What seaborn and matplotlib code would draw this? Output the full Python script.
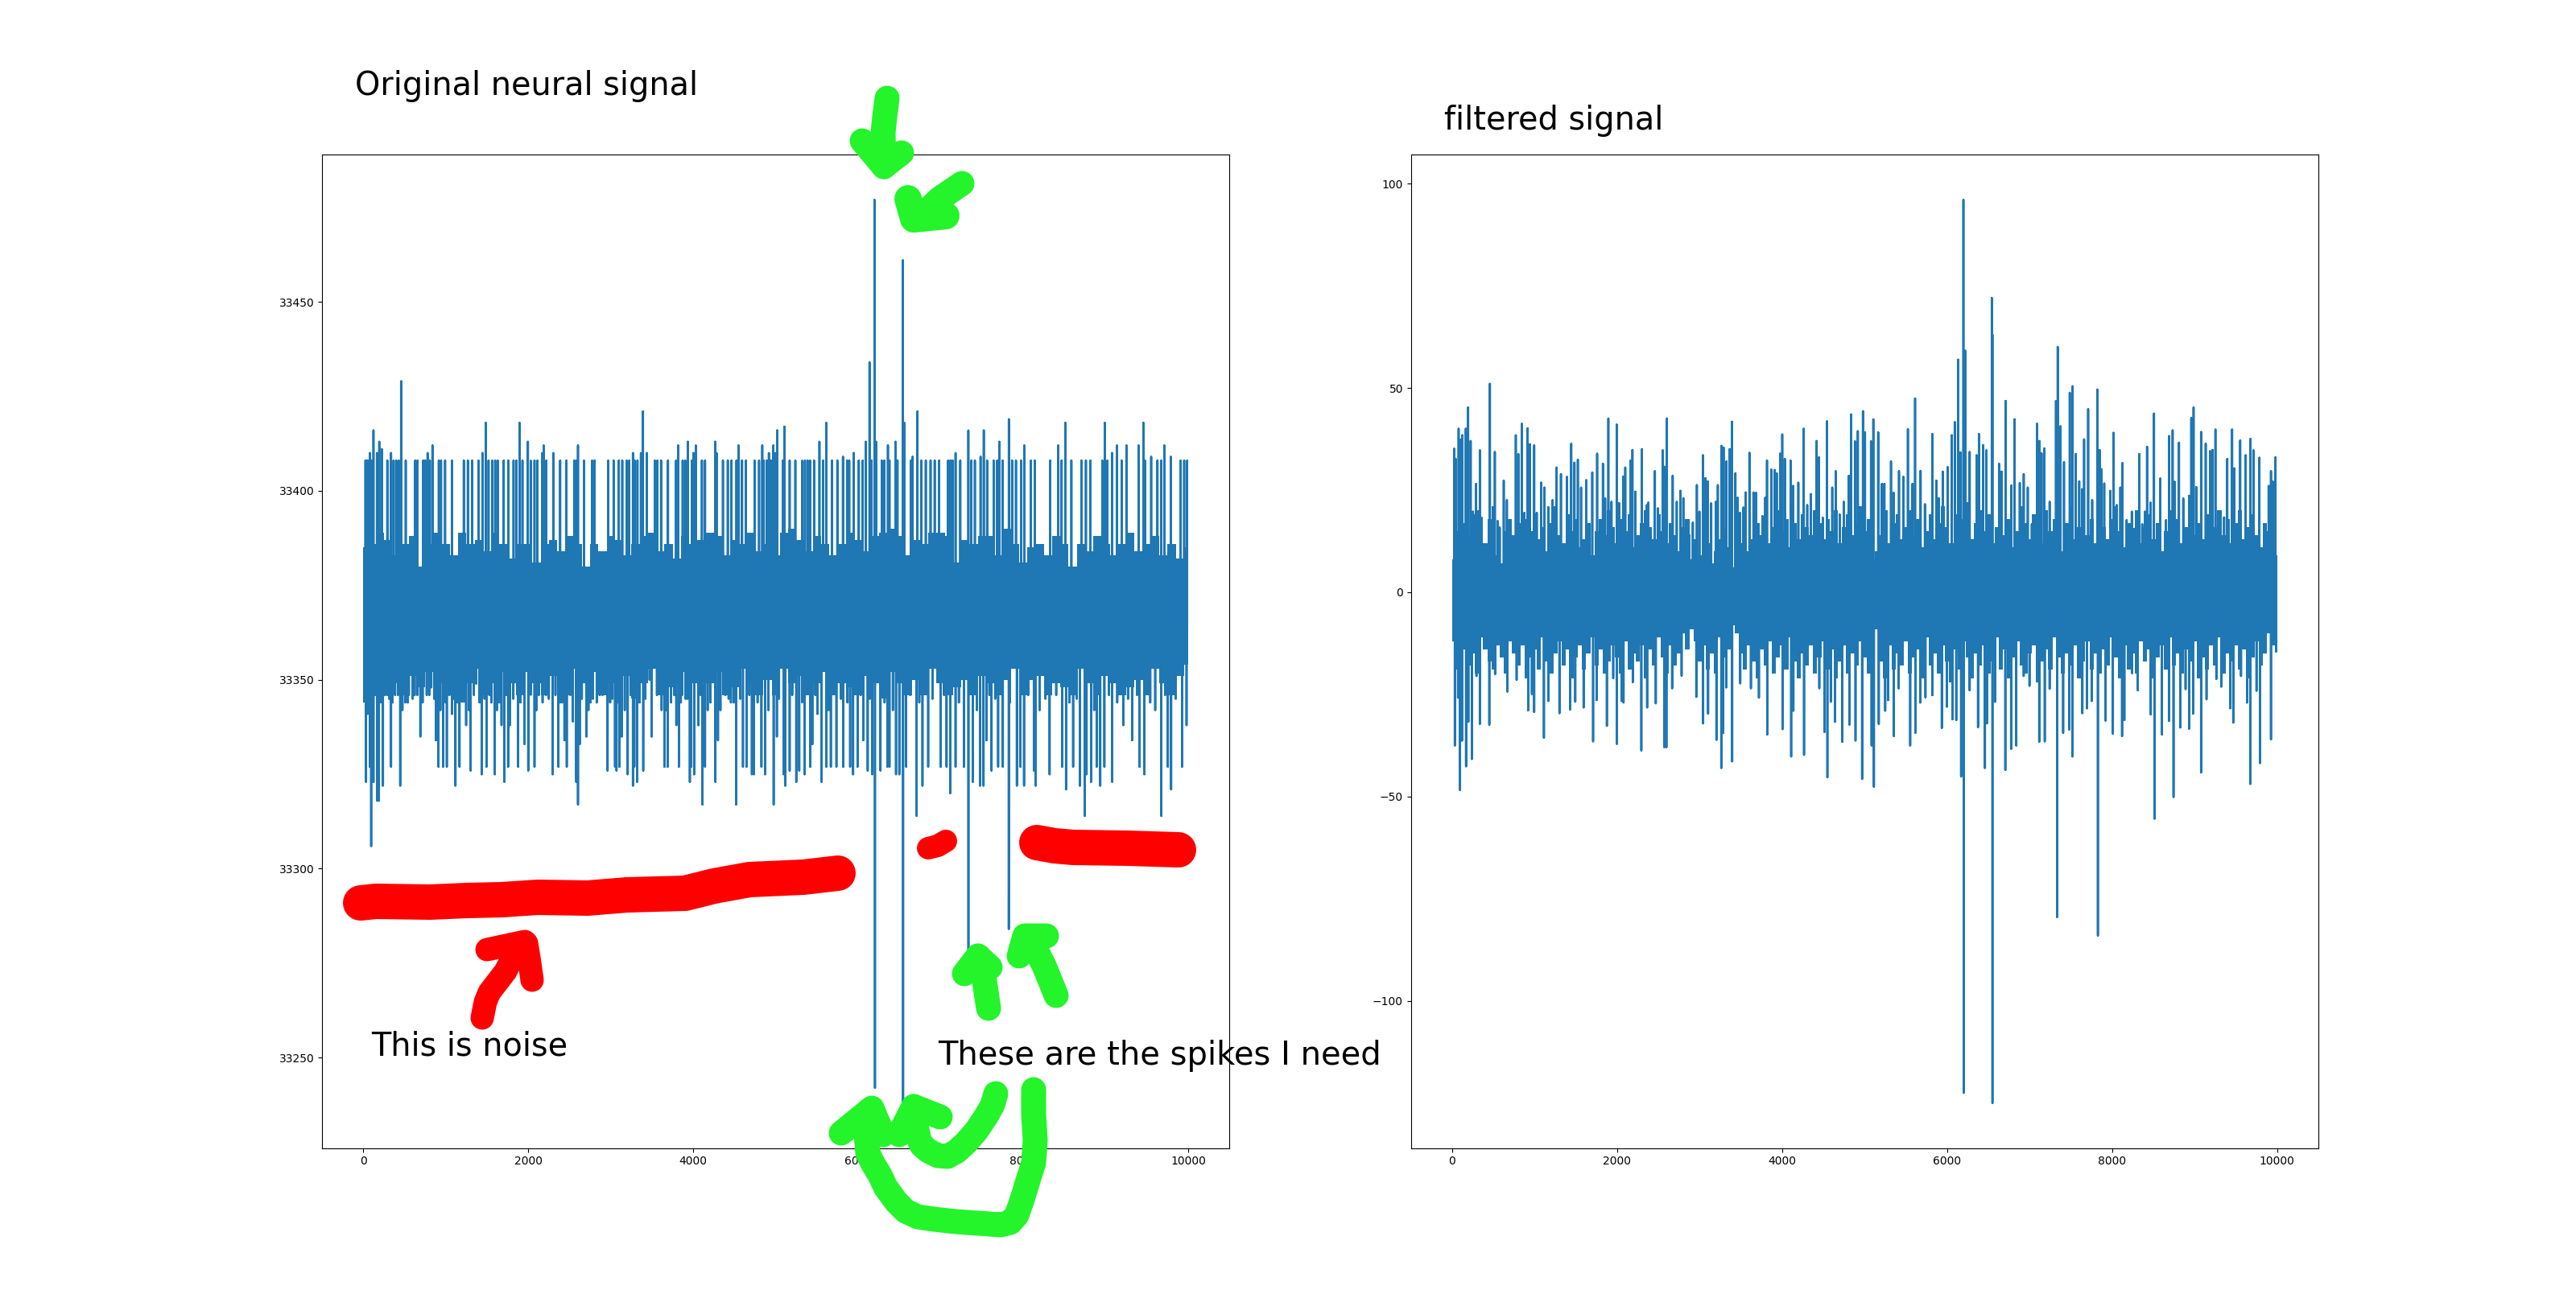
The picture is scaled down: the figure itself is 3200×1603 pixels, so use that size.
import numpy as np
import pandas as pd
import matplotlib
matplotlib.use("Agg")
import matplotlib.pyplot as plt
import seaborn as sns

# Values: tips of the visible spikes, and the
# edges of the solid band along the x axis.
left_up_x = [27, 44, 65, 79, 96, 124, 166, 194, 225, 292, 337, 368, 400, 431, 459, 515, 630, 658, 727, 752,
             780, 807, 839, 916, 943, 992, 1076, 1219, 1268, 1320, 1397, 1445, 1484, 1519, 1564, 1599, 1630,
             1703, 1759, 1822, 1857, 1895, 1930, 1996, 2031, 2076, 2111, 2171, 2188, 2219, 2303, 2387, 2463,
             2557, 2582, 2603, 2676, 2774, 2805, 2969, 3035, 3098, 3140, 3192, 3223, 3269, 3290, 3324, 3366,
             3391, 3436, 3534, 3565, 3610, 3694, 3792, 3816, 3872, 3903, 3934, 3983, 4004, 4032, 4105, 4143,
             4266, 4283, 4360, 4419, 4464, 4524, 4548, 4592, 4639, 4744, 4798, 4837, 4855, 4892, 4917, 4942,
             4971, 5000, 5018, 5086, 5105, 5169, 5238, 5321, 5354, 5386, 5415, 5465, 5530, 5574, 5613, 5682,
             5747, 5815, 5866, 5891, 5945, 6007, 6054, 6090, 6137, 6162, 6198, 6216, 6285, 6317, 6360, 6379,
             6451, 6476, 6541, 6559, 6638, 6660, 6718, 6765, 6819, 6877, 6927, 6981, 7090, 7118, 7144, 7180,
             7237, 7335, 7371, 7414, 7483, 7522, 7562, 7642, 7685, 7710, 7750, 7826, 7865, 7912, 7974, 8013,
             8093, 8140, 8327, 8425, 8465, 8511, 8584, 8706, 8760, 8815, 8959, 8988, 9020, 9078, 9136, 9193,
             9251, 9399, 9457, 9475, 9551, 9627, 9674, 9710, 9789, 9908, 9951, 9987]
left_up_y = [33408, 33408, 33408, 33410, 33408, 33416, 33410, 33413, 33411, 33408, 33410, 33408, 33408, 33408,
             33429, 33408, 33408, 33408, 33408, 33408, 33410, 33408, 33412, 33408, 33408, 33408, 33408, 33408,
             33408, 33408, 33408, 33410, 33418, 33408, 33408, 33408, 33408, 33408, 33408, 33408, 33408, 33418,
             33408, 33413, 33408, 33408, 33408, 33410, 33412, 33408, 33410, 33408, 33408, 33408, 33408, 33412,
             33408, 33408, 33408, 33408, 33408, 33408, 33408, 33408, 33408, 33410, 33408, 33408, 33410, 33421,
             33410, 33408, 33408, 33408, 33408, 33408, 33412, 33408, 33408, 33413, 33408, 33410, 33412, 33408,
             33408, 33413, 33410, 33408, 33408, 33408, 33408, 33412, 33408, 33408, 33408, 33408, 33412, 33408,
             33408, 33410, 33408, 33412, 33410, 33416, 33408, 33417, 33408, 33408, 33408, 33408, 33408, 33408,
             33408, 33413, 33408, 33418, 33408, 33408, 33409, 33408, 33408, 33410, 33408, 33408, 33413, 33434,
             33408, 33477, 33413, 33408, 33408, 33412, 33408, 33413, 33408, 33461, 33418, 33408, 33409, 33421,
             33408, 33408, 33408, 33408, 33408, 33408, 33408, 33408, 33410, 33408, 33416, 33408, 33408, 33409,
             33416, 33408, 33408, 33408, 33413, 33408, 33419, 33408, 33408, 33408, 33412, 33408, 33408, 33408,
             33412, 33408, 33418, 33408, 33408, 33408, 33408, 33408, 33418, 33408, 33410, 33412, 33408, 33412,
             33412, 33418, 33408, 33409, 33408, 33408, 33412, 33409, 33408, 33408, 33408]
left_down_x = [34, 54, 79, 96, 124, 170, 190, 239, 288, 337, 386, 448, 508, 553, 623, 692, 769, 825, 881, 912,
               968, 1013, 1076, 1118, 1167, 1247, 1302, 1369, 1435, 1494, 1553, 1595, 1676, 1710, 1756, 1780,
               1878, 1954, 2000, 2076, 2129, 2174, 2216, 2296, 2366, 2383, 2439, 2467, 2540, 2582, 2603, 2624,
               2704, 2756, 2784, 2868, 2962, 2993, 3052, 3070, 3105, 3133, 3206, 3269, 3286, 3321, 3394, 3471,
               3495, 3617, 3652, 3690, 3732, 3795, 3826, 3865, 3907, 3959, 3976, 4011, 4063, 4112, 4143, 4175,
               4269, 4300, 4429, 4457, 4520, 4603, 4646, 4711, 4736, 4827, 4870, 4975, 5014, 5097, 5115, 5169,
               5249, 5285, 5350, 5419, 5444, 5505, 5556, 5613, 5668, 5736, 5819, 5902, 5938, 5992, 6061, 6115,
               6169, 6203, 6270, 6353, 6379, 6458, 6498, 6544, 6581, 6707, 6779, 6848, 6999, 7071, 7115, 7180,
               7281, 7336, 7389, 7476, 7519, 7555, 7616, 7696, 7753, 7825, 7923, 7966, 8010, 8129, 8151, 8320,
               8472, 8519, 8605, 8688, 8746, 8768, 8822, 8890, 8934, 8984, 9078, 9212, 9320, 9410, 9468, 9674,
               9753, 9793, 9926, 9980]
left_down_y = [33323, 33341, 33327, 33306, 33323, 33318, 33318, 33322, 33346, 33327, 33346, 33322, 33344, 33346,
               33346, 33335, 33346, 33348, 33334, 33327, 33327, 33327, 33341, 33322, 33327, 33338, 33326, 33349,
               33325, 33327, 33344, 33325, 33338, 33323, 33327, 33338, 33327, 33333, 33326, 33327, 33346, 33344,
               33346, 33325, 33327, 33344, 33334, 33327, 33339, 33323, 33317, 33333, 33335, 33344, 33345, 33346,
               33326, 33344, 33327, 33326, 33327, 33335, 33325, 33322, 33327, 33323, 33326, 33350, 33335, 33342,
               33327, 33327, 33344, 33338, 33327, 33346, 33345, 33323, 33327, 33325, 33338, 33317, 33327, 33342,
               33323, 33334, 33345, 33344, 33317, 33327, 33327, 33325, 33325, 33327, 33325, 33317, 33335, 33325,
               33322, 33326, 33323, 33326, 33325, 33327, 33333, 33341, 33323, 33327, 33327, 33327, 33327, 33327,
               33325, 33327, 33334, 33326, 33325, 33242, 33326, 33327, 33327, 33325, 33325, 33238, 33327, 33314,
               33322, 33327, 33327, 33327, 33320, 33327, 33327, 33277, 33323, 33322, 33322, 33334, 33326, 33327,
               33327, 33284, 33322, 33327, 33322, 33326, 33322, 33325, 33327, 33321, 33327, 33322, 33314, 33325,
               33323, 33327, 33322, 33327, 33323, 33338, 33334, 33327, 33325, 33314, 33327, 33321, 33327, 33338]
# the shorter tips just under the band
left_short_x = [60, 110, 145, 215, 260, 315, 355, 420, 475, 540, 600, 655, 720, 800, 860, 935, 1000, 1045, 1100,
                1145, 1200, 1280, 1340, 1410, 1470, 1530, 1620, 1650, 1735, 1820, 1905, 2030, 2100, 2250, 2330,
                2410, 2510, 2650, 2730, 2830, 2900, 3020, 3090, 3170, 3240, 3350, 3420, 3560, 3670, 3770, 3850,
                3930, 4090, 4210, 4330, 4390, 4490, 4570, 4680, 4780, 4910, 5040, 5200, 5320, 5480, 5640, 5790,
                5870, 6030, 6140, 6320, 6420, 6630, 6740, 6900, 7040, 7220, 7440, 7590, 7660, 7840, 8060, 8200,
                8270, 8400, 8560, 8650, 8860, 9040, 9140, 9270, 9380, 9540, 9600, 9720, 9850]
left_short_y = [33344, 33342, 33346, 33344, 33346, 33345, 33344, 33346, 33342, 33344, 33345, 33346, 33344, 33346,
                33345, 33342, 33344, 33346, 33345, 33344, 33346, 33342, 33346, 33344, 33345, 33346, 33342, 33344,
                33346, 33345, 33344, 33346, 33342, 33345, 33346, 33344, 33346, 33345, 33342, 33344, 33346, 33345,
                33344, 33342, 33346, 33344, 33345, 33346, 33342, 33346, 33344, 33345, 33346, 33344, 33342, 33346,
                33344, 33345, 33346, 33344, 33342, 33345, 33346, 33344, 33346, 33342, 33345, 33344, 33346, 33345,
                33344, 33342, 33346, 33344, 33345, 33346, 33344, 33342, 33346, 33345, 33344, 33346, 33342, 33345,
                33346, 33344, 33345, 33342, 33346, 33344, 33345, 33346, 33344, 33342, 33346, 33345]

right_up_x = [25, 43, 78, 98, 123, 165, 193, 224, 252, 290, 335, 356, 457, 517, 551, 576, 625, 663, 698, 771,
              802, 844, 875, 914, 942, 994, 1025, 1077, 1116, 1165, 1217, 1266, 1318, 1391, 1443, 1482, 1523,
              1562, 1624, 1698, 1757, 1827, 1854, 1893, 1931, 1994, 2022, 2074, 2098, 2161, 2185, 2220, 2300,
              2360, 2377, 2457, 2495, 2551, 2572, 2603, 2673, 2722, 2767, 2802, 2844, 2875, 2917, 2966, 2997,
              3039, 3070, 3098, 3140, 3196, 3220, 3265, 3290, 3325, 3363, 3391, 3433, 3460, 3488, 3530, 3558,
              3603, 3652, 3683, 3760, 3795, 3816, 3868, 3910, 3934, 3976, 4001, 4032, 4102, 4133, 4196, 4262,
              4304, 4349, 4418, 4446, 4492, 4544, 4607, 4649, 4697, 4746, 4809, 4837, 4882, 4917, 4979, 5004,
              5077, 5105, 5164, 5209, 5239, 5319, 5350, 5416, 5469, 5524, 5580, 5611, 5678, 5730, 5820, 5869,
              5897, 5946, 6005, 6057, 6092, 6134, 6162, 6197, 6218, 6273, 6357, 6385, 6434, 6475, 6541, 6549,
              6629, 6660, 6709, 6779, 6817, 6880, 6928, 6977, 7026, 7089, 7120, 7144, 7179, 7242, 7319, 7340,
              7374, 7416, 7486, 7521, 7559, 7601, 7636, 7660, 7709, 7758, 7820, 7848, 7869, 7904, 7977, 8015,
              8054, 8099, 8124, 8176, 8238, 8270, 8329, 8364, 8399, 8423, 8465, 8507, 8583, 8653, 8691, 8733,
              8757, 8810, 8862, 8932, 8959, 8987, 9019, 9078, 9134, 9186, 9217, 9252, 9298, 9357, 9395, 9454,
              9479, 9552, 9618, 9677, 9712, 9785, 9845, 9897, 9925, 9946, 9980]
right_up_y = [35.1, 32.6, 40, 37.3, 38.4, 40, 45.2, 37, 19.7, 26.5, 34.7, 18.2, 51, 34.3, 17.4, 15.8, 27.3, 22.5,
              17.4, 38.4, 33.8, 41.2, 19.4, 40.1, 36.2, 35.9, 19.4, 26.8, 25.6, 20.8, 22.5, 30.5, 28.9, 28.2, 36.3,
              31.7, 32.4, 25.6, 27.4, 29.3, 33.9, 31.4, 22.9, 42.5, 22.1, 41, 21.8, 28.3, 30.5, 32.2, 34.8, 24.6, 35,
              21.3, 21.9, 29.6, 20.5, 34.7, 30.7, 42.5, 28.5, 22.1, 24.8, 23, 12.7, 13.9, 17, 26.2, 19.7, 33.5, 27.9,
              27.1, 21.7, 22.1, 26.2, 35.8, 35.4, 32, 35, 41.7, 29.1, 23.1, 19.4, 20.7, 24.4, 34.1, 24.4, 24.3, 18.6,
              23.1, 32.2, 30, 29.9, 29.1, 33.9, 38.6, 32.6, 32.2, 26, 26.8, 40, 21.3, 24, 37, 33, 18.2, 41.8, 25.6,
              29.6, 19, 22.1, 28.5, 43.5, 36.9, 39.4, 44.3, 39.1, 36.9, 42.3, 39.1, 26.5, 26.5, 32, 24.3, 29.6, 28.2,
              39.9, 26.5, 47.4, 29.7, 21.5, 38.7, 27.3, 23, 29.5, 30.6, 38.4, 41.6, 56.9, 34.2, 96, 59.1, 34.3, 33.5,
              38.7, 36, 34.7, 72, 63, 31.4, 29.5, 46.8, 26.1, 42.3, 26.7, 28.9, 25.6, 16.6, 41.2, 37, 34, 35.2, 22.1,
              46.8, 60, 40.6, 31.8, 48.8, 50.4, 33.8, 27.1, 25.2, 37.4, 44.8, 22.5, 49.6, 34.8, 30.1, 26.6, 24.8, 39,
              21.3, 25.6, 31.6, 17.6, 19.7, 15.5, 33.8, 16.6, 19.7, 35.6, 21.9, 43.7, 27.8, 17.6, 38.2, 39.6, 27,
              36.6, 22.9, 23.6, 42.6, 45.2, 25.7, 39.2, 36.3, 34.5, 34.8, 39.8, 17, 18.3, 32.6, 39.8, 30.3, 37.1,
              33.5, 37.5, 34.7, 32.9, 14.8, 26, 29.6, 27.1, 33]
right_down_x = [32, 71, 95, 119, 168, 196, 238, 294, 335, 450, 520, 670, 781, 921, 966, 994, 1112, 1165, 1300,
                1429, 1492, 1593, 1708, 1750, 1875, 1952, 1997, 2053, 2077, 2189, 2293, 2363, 2468, 2572, 2597,
                2666, 2781, 2959, 3042, 3102, 3203, 3262, 3286, 3321, 3394, 3492, 3621, 3718, 3819, 4004, 4109,
                4136, 4265, 4450, 4513, 4548, 4589, 4642, 4729, 4816, 4889, 4969, 5084, 5112, 5171, 5249, 5284,
                5354, 5413, 5552, 5615, 5674, 5737, 5820, 5935, 5995, 6064, 6110, 6169, 6200, 6273, 6374, 6458,
                6482, 6549, 6580, 6705, 6775, 6838, 6928, 6998, 7116, 7183, 7242, 7333, 7406, 7479, 7517, 7639,
                7695, 7754, 7827, 7921, 8009, 8120, 8148, 8242, 8311, 8468, 8514, 8604, 8688, 8744, 8827, 8890,
                8932, 8981, 9078, 9144, 9263, 9322, 9430, 9468, 9562, 9635, 9674, 9750, 9792, 9925, 9987]
right_down_y = [-37.5, -25.8, -48.4, -36.3, -42.6, -31.7, -40.8, -20.5, -32.2, -32.4, -20, -24.3, -21.4, -28.9,
                -24.9, -29.3, -35.6, -26.6, -29.6, -28.7, -26.8, -28.2, -36.5, -26.4, -32.7, -21, -37.1, -26.6,
                -27, -22, -38.7, -28.2, -27.2, -37.9, -37.9, -23.5, -20.4, -25.6, -32.1, -29.7, -36.1, -43, -34.4,
                -23.3, -41.4, -22.3, -23.5, -25.8, -34.8, -33.5, -40.2, -29, -39.8, -23.5, -34.2, -45.3, -26.8,
                -31.7, -36.6, -32.4, -36.3, -45.7, -37.5, -47.6, -32.2, -29, -26.4, -35.2, -23.5, -37.5, -34.4,
                -27, -25.7, -25.2, -33.2, -28, -31.1, -31.3, -45.1, -122.5, -24, -33, -43, -32.1, -125, -26.8,
                -43.5, -38.3, -37.5, -20.5, -22.9, -36.6, -36.5, -23.6, -79.5, -34.4, -33.6, -40.2, -29.6, -28.4,
                -26.6, -84, -31.4, -34.6, -35.2, -31.3, -19.8, -24, -29.9, -55.4, -34.8, -31.5, -50.1, -33.1,
                -23.7, -33.4, -29.7, -44.1, -26.2, -21.2, -23.1, -28.4, -31.9, -20.5, -27, -46.9, -24.1, -41.8,
                -36, -14.5]

left_band_top = [33385, 33386, 33389, 33387, 33383, 33386, 33388, 33380, 33386, 33389,
                 33386, 33383, 33389, 33386, 33387, 33384, 33389, 33386, 33382, 33386,
                 33386, 33381, 33386, 33387, 33384, 33388, 33386, 33380, 33386, 33384,
                 33388, 33387, 33383, 33386, 33388, 33389, 33384, 33386, 33382, 33388,
                 33386, 33387, 33389, 33388, 33383, 33387, 33386, 33389, 33384, 33386,
                 33383, 33389, 33390, 33387, 33384, 33388, 33386, 33383, 33386, 33389,
                 33387, 33384, 33388, 33389, 33390, 33388, 33383, 33387, 33386, 33389,
                 33389, 33388, 33381, 33387, 33386, 33388, 33388, 33383, 33390, 33386,
                 33381, 33385, 33386, 33383, 33388, 33386, 33380, 33386, 33384, 33388,
                 33386, 33383, 33386, 33389, 33384, 33386, 33388, 33383, 33386, 33382, 33385]
left_band_bottom = [33344, 33346, 33349, 33352, 33349, 33346, 33351, 33348, 33352, 33349,
                    33346, 33352, 33344, 33349, 33353, 33346, 33349, 33352, 33349, 33346,
                    33352, 33349, 33346, 33351, 33349, 33346, 33353, 33349, 33352, 33346,
                    33349, 33346, 33351, 33345, 33349, 33353, 33346, 33348, 33349, 33352,
                    33349, 33346, 33349, 33352, 33346, 33348, 33353, 33349, 33346, 33350,
                    33346, 33353, 33349, 33351, 33346, 33349, 33352, 33346, 33349, 33348,
                    33346, 33351, 33349, 33345, 33352, 33349, 33346, 33350, 33346, 33353,
                    33349, 33346, 33348, 33350, 33346, 33351, 33349, 33346, 33350, 33353,
                    33346, 33350, 33351, 33346, 33349, 33348, 33346, 33353, 33349, 33346,
                    33351, 33349, 33346, 33348, 33350, 33346, 33353, 33349, 33346, 33351, 33354]
right_band_top = [8, 15, 22, 17, 14, 19, 20, 16, 12, 18,
                  21, 9, 7, 15, 18, 14, 17, 11, 18, 15,
                  19, 13, 16, 10, 17, 21, 14, 12, 19, 15,
                  18, 11, 13, 17, 9, 15, 18, 14, 20, 16,
                  12, 18, 15, 19, 11, 14, 17, 20, 16, 13,
                  19, 15, 12, 17, 14, 10, 16, 18, 8, 13,
                  9, 14, 12, 7, 10, 13, 16, 11, 6, 9,
                  12, 15, 10, 13, 17, 14, 19, 12, 16, 20,
                  15, 18, 11, 17, 13, 19, 16, 14, 20, 17,
                  13, 18, 15, 20, 12, 16, 19, 14, 17, 21,
                  15, 18, 8, 10, 14, 20, 12, 17, 19, 13,
                  16, 20, 14, 18, 11, 15, 19, 13, 17, 21,
                  16, 12, 19, 14, 18, 22, 13, 17, 20, 15,
                  19, 12, 16, 20, 14, 18, 11, 15, 21, 17,
                  13, 19, 16, 12, 20, 15, 18, 14, 10, 17,
                  21, 13, 16, 19, 14, 18, 12, 20, 16, 13,
                  18, 21, 15, 11, 17, 14, 20, 12, 16, 19,
                  13, 17, 10, 15, 20, 14, 18, 12, 16, 21,
                  14, 17, 13, 19, 11, 16, 20, 14, 18, 12,
                  17, 20, 13, 16, 19, 14, 11, 17, 15, 12, 9]
right_band_bottom = [-12, -19, -16, -14, -18, -15, -20, -11, -14, -17,
                     -19, -13, -16, -20, -12, -15, -18, -13, -21, -16,
                     -14, -19, -11, -17, -20, -15, -12, -18, -14, -21,
                     -16, -13, -19, -15, -11, -18, -14, -20, -17, -13,
                     -16, -20, -12, -19, -15, -17, -13, -21, -14, -18,
                     -11, -16, -20, -13, -18, -15, -10, -14, -9, -12,
                     -17, -13, -19, -15, -20, -11, -16, -14, -8, -10,
                     -15, -19, -13, -17, -21, -14, -18, -12, -20, -16,
                     -13, -19, -11, -17, -21, -15, -18, -13, -20, -16,
                     -12, -19, -14, -21, -17, -13, -20, -15, -18, -12,
                     -16, -20, -14, -9, -17, -21, -13, -19, -15, -18,
                     -12, -20, -16, -14, -21, -11, -18, -15, -20, -13,
                     -17, -22, -14, -19, -12, -16, -21, -15, -18, -13,
                     -20, -17, -11, -19, -14, -21, -16, -12, -18, -20,
                     -15, -13, -22, -17, -14, -19, -11, -16, -20, -15,
                     -18, -13, -21, -17, -12, -19, -15, -20, -14, -18,
                     -11, -16, -21, -13, -19, -15, -20, -12, -17, -14,
                     -21, -16, -13, -19, -11, -18, -15, -20, -14, -17,
                     -12, -21, -16, -19, -13, -18, -11, -20, -15, -17,
                     -13, -19, -14, -21, -16, -12, -18, -15, -10, -13, -12]

# hand drawn marks on top of the screenshot, in picture pixels
red_strokes = [
    (44, [(448, 1122), (467, 1120), (534, 1121), (580, 1119), (623, 1118), (668, 1115), (730, 1116), (779, 1112),
          (851, 1110), (887, 1101), (931, 1093), (998, 1090), (1041, 1085)]),
    (44, [(1288, 1047), (1310, 1051), (1333, 1053), (1400, 1054), (1464, 1056)]),
    (28, [(1153, 1054), (1165, 1051), (1175, 1045)]),
    (29, [(599, 1265), (603, 1245), (608, 1233), (628, 1207), (646, 1172)]),
    (29, [(605, 1180), (652, 1170)]),
    (29, [(661, 1218), (657, 1190), (654, 1172)]),
]
green_strokes = [
    (31, [(1102, 122), (1099, 145), (1097, 165), (1098, 207)]),
    (31, [(1071, 175), (1098, 207)]),
    (31, [(1120, 190), (1098, 207)]),
    (31, [(1195, 228), (1167, 247), (1143, 270)]),
    (34, [(1128, 247), (1135, 272), (1175, 268)]),
    (31, [(1228, 1253), (1222, 1213), (1215, 1188)]),
    (31, [(1198, 1210), (1215, 1188), (1230, 1202)]),
    (31, [(1312, 1237), (1297, 1200), (1280, 1167)]),
    (31, [(1266, 1188), (1273, 1163), (1300, 1163)]),
    (31, [(1237, 1359), (1233, 1373), (1225, 1387), (1213, 1405), (1200, 1420), (1188, 1431), (1177, 1437),
          (1165, 1436), (1153, 1430), (1145, 1423), (1142, 1417), (1137, 1395), (1135, 1375)]),
    (31, [(1168, 1388), (1135, 1375), (1117, 1410)]),
    (31, [(1284, 1354), (1284, 1385), (1286, 1417), (1284, 1445), (1277, 1467), (1270, 1490), (1263, 1510),
          (1255, 1519), (1243, 1522), (1215, 1520), (1187, 1518), (1160, 1515), (1140, 1512), (1125, 1505),
          (1113, 1493), (1100, 1475), (1093, 1460), (1085, 1447), (1078, 1433), (1076, 1410), (1078, 1383)]),
    (31, [(1045, 1408), (1083, 1377), (1097, 1410)]),
]


def spikes(ax, tips_x, tips_y, band_top, band_bottom):
    band_x = np.linspace(0, 10000, len(band_top))
    ax.fill_between(band_x, band_bottom, band_top, step="mid", color="C0", lw=0)
    x = np.array(tips_x)
    y = np.array(tips_y)
    order = np.argsort(x)
    x, y = x[order], y[order]
    mid = (band_top[0] + band_bottom[0]) / 2
    # every tip goes out from the band and back, like the raw trace
    df = pd.DataFrame({"sample": np.repeat(x, 3), "value": np.column_stack([np.full(len(y), mid), y, np.full(len(y), mid)]).ravel()})
    sns.lineplot(data=df, x="sample", y="value", estimator=None, sort=False, color="C0", lw=1.9, ax=ax)
    ax.set_xlabel("")
    ax.set_ylabel("")


fig, (ax1, ax2) = plt.subplots(1, 2, figsize=(32, 16.03), dpi=100)
spikes(ax1, left_up_x + left_down_x + left_short_x, left_up_y + left_down_y + left_short_y, left_band_top, left_band_bottom)
spikes(ax2, right_up_x + right_down_x, right_up_y + right_down_y, right_band_top, right_band_bottom)

over = fig.add_axes([0, 0, 1, 1], facecolor="none")
over.set_xlim(0, 3200)
over.set_ylim(1603, 0)
over.axis("off")
for colour, strokes in (("#ff0000", red_strokes), ("#24f42a", green_strokes)):
    for width, pts in strokes:
        px, py = zip(*pts)
        over.plot(px, py, color=colour, lw=width * 0.72, solid_capstyle="round", solid_joinstyle="round")

over.text(441, 118, "Original neural signal", fontsize=28.6)
over.text(1794, 161, "filtered signal", fontsize=28.6)
over.text(461, 1312, "This is noise", fontsize=28.6)
over.text(1165, 1323, "These are the spikes I need", fontsize=28.8)

fig.savefig("out.png", dpi=100)
